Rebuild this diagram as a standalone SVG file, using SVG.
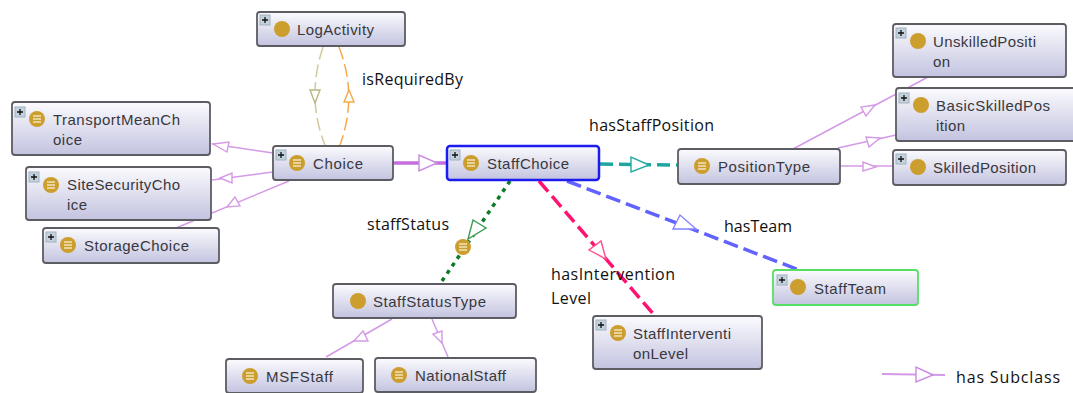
<svg xmlns="http://www.w3.org/2000/svg" width="1073" height="393" viewBox="0 0 1073 393">
<style>
.box{fill:url(#g);stroke:#5c5c63;stroke-width:1.8}
.t{font:15px "Liberation Sans",Arial,sans-serif;fill:#38383d}
.a{font:16px "Open Sans",sans-serif;fill:#111}
.c{fill:none}
.sub{stroke:#d49ae6;stroke-width:1.5}
.head{fill:#fff;stroke-width:1.4}
.gold{fill:#cc9e2e}
.bars{stroke:#f1e3bd;stroke-width:1.3}
.pb{fill:#c3d2dc;stroke:#9fb2bf;stroke-width:1}
.pl{stroke:#111;stroke-width:1.3}
</style>
<defs>
<linearGradient id="g" x1="0" y1="0" x2="0" y2="1"><stop offset="0" stop-color="#fbfbfe"/><stop offset="1" stop-color="#c3c3e0"/></linearGradient>
<g id="plus"><rect class="pb" x="0" y="0" width="10" height="10"/><path class="pl" d="M2 5H8M5 2V8"/></g>
<g id="ci"><circle class="gold" r="8"/></g>
<g id="cl"><circle class="gold" r="8"/><path class="bars" d="M-4-3H4M-4 0H4M-4 3H4"/></g>
</defs>
<rect width="1073" height="393" fill="#fff"/>
<g id="connectors">
<path class="c sub" d="M273 153L212 144"/>
<polygon class="head" stroke="#d49ae6" points="213,144 229,142 227,152"/>
<path class="c sub" d="M273 172L212 180"/>
<polygon class="head" stroke="#d49ae6" points="220,178 232,173 232,183"/>
<path class="c sub" d="M289 181L176 228"/>
<polygon class="head" stroke="#d49ae6" points="227,207 235,197 240,206"/>
<path class="c" stroke="#c56fdc" stroke-width="3.5" d="M393 163H447"/>
<polygon class="head" stroke="#c98ae0" points="437,163 419,155 419,171"/>
<path class="c" stroke="#cfcb9b" stroke-width="1.5" stroke-dasharray="13 5" d="M323 47Q306 98 325 145"/>
<polygon class="head" stroke="#b9b67f" points="315,103 310,90 320,90"/>
<path class="c" stroke="#f5a94a" stroke-width="1.5" stroke-dasharray="13 5" d="M339 47Q358 96 340 145"/>
<polygon class="head" stroke="#f5a94a" points="349,90 344,102 354,102"/>
<path class="c" stroke="#1fa79f" stroke-width="3.5" stroke-dasharray="13 6" d="M600 164L677 165"/>
<polygon class="head" stroke="#25aaa2" points="649,165 631,157 631,172"/>
<path class="c" stroke="#0d7a26" stroke-width="3.5" stroke-dasharray="4 5" d="M510 181L440 284"/>
<polygon class="head" stroke="#3c9a50" points="468,239 473,220 486,228"/>
<path class="c" stroke="#ff1270" stroke-width="3.5" stroke-dasharray="14 6" d="M539 181L655 316"/>
<polygon class="head" stroke="#ff4c8e" points="606,259 601,241 589,250"/>
<path class="c" stroke="#6262ff" stroke-width="3.5" stroke-dasharray="15 6" d="M567 181L799 270"/>
<polygon class="head" stroke="#8484ff" points="696,229 680,215 673,229"/>
<path class="c sub" d="M793 149L928 77"/>
<polygon class="head" stroke="#d49ae6" points="875,105 861,107 866,116"/>
<path class="c sub" d="M838 148L896 135"/>
<polygon class="head" stroke="#d49ae6" points="880,138 866,137 869,147"/>
<path class="c sub" d="M840 166H893"/>
<polygon class="head" stroke="#d49ae6" points="876,167 863,162 863,171"/>
<path class="c sub" d="M392 319L326 357"/>
<polygon class="head" stroke="#d49ae6" points="354,341 363,331 368,341"/>
<path class="c sub" d="M432 319L448 357"/>
<polygon class="head" stroke="#d49ae6" points="442,343 433,334 442,331"/>
<path class="c" stroke="#d49ae6" stroke-width="2" d="M882 374L945 375"/>
<polygon class="head" stroke="#c98ae0" stroke-width="2" points="933,375 916,367 916,382"/>
</g>
<g id="status-value"><use href="#cl" x="463" y="247"/></g>
<g id="LogActivity"><rect class="box" x="257" y="12" width="148" height="34" rx="3"/><use href="#plus" x="260" y="15"/><use href="#ci" x="282" y="29"/><text class="t" x="297" y="35" textLength="77">LogActivity</text></g>
<g id="TransportMeanChoice"><rect class="box" x="12" y="102" width="198" height="53" rx="3"/><use href="#plus" x="15" y="107"/><use href="#cl" x="37" y="119"/><text class="t" x="53" y="125" textLength="127">TransportMeanCh</text><text class="t" x="53" y="145" textLength="29">oice</text></g>
<g id="Choice"><rect class="box" x="273" y="146" width="120" height="34" rx="3"/><use href="#plus" x="276" y="150"/><use href="#cl" x="297" y="163"/><text class="t" x="313" y="169" textLength="50">Choice</text></g>
<g id="SiteSecurityChoice"><rect class="box" x="26" y="167" width="185" height="53" rx="3"/><use href="#plus" x="29" y="172"/><use href="#cl" x="51" y="185"/><text class="t" x="67" y="190" textLength="113">SiteSecurityCho</text><text class="t" x="67" y="210" textLength="20">ice</text></g>
<g id="StorageChoice"><rect class="box" x="43" y="228" width="176" height="35" rx="3"/><use href="#plus" x="46" y="232"/><use href="#cl" x="68" y="245"/><text class="t" x="84" y="251" textLength="105">StorageChoice</text></g>
<g id="StaffChoice"><rect class="box" style="stroke:#1c1cf0;stroke-width:2.5" x="447" y="146" width="152" height="34" rx="3"/><use href="#plus" x="450" y="150"/><use href="#cl" x="471" y="163"/><text class="t" x="487" y="169" textLength="82">StaffChoice</text></g>
<g id="PositionType"><rect class="box" x="678" y="149" width="162" height="35" rx="3"/><use href="#cl" x="702" y="166"/><text class="t" x="718" y="172" textLength="92">PositionType</text></g>
<g id="UnskilledPosition"><rect class="box" x="893" y="24" width="173" height="53" rx="3"/><use href="#plus" x="896" y="28"/><use href="#ci" x="918" y="41"/><text class="t" x="933" y="47" textLength="103">UnskilledPositi</text><text class="t" x="933" y="67" textLength="17">on</text></g>
<g id="BasicSkilledPosition"><rect class="box" x="896" y="88" width="185" height="53" rx="3"/><use href="#plus" x="899" y="93"/><use href="#ci" x="921" y="105"/><text class="t" x="936" y="111" textLength="114">BasicSkilledPos</text><text class="t" x="936" y="131" textLength="29">ition</text></g>
<g id="SkilledPosition"><rect class="box" x="893" y="150" width="173" height="35" rx="3"/><use href="#plus" x="896" y="154"/><use href="#ci" x="918" y="167"/><text class="t" x="933" y="173" textLength="103">SkilledPosition</text></g>
<g id="StaffTeam"><rect class="box" style="stroke:#55e065" x="773" y="270" width="145" height="35" rx="3"/><use href="#plus" x="777" y="275"/><use href="#ci" x="798" y="287"/><text class="t" x="814" y="294" textLength="72">StaffTeam</text></g>
<g id="StaffStatusType"><rect class="box" x="333" y="284" width="183" height="34" rx="3"/><use href="#ci" x="358" y="301"/><text class="t" x="373" y="307" textLength="113">StaffStatusType</text></g>
<g id="MSFStaff"><rect class="box" x="226" y="359" width="137" height="34" rx="3"/><use href="#cl" x="250" y="376"/><text class="t" x="266" y="382" textLength="67">MSFStaff</text></g>
<g id="NationalStaff"><rect class="box" x="375" y="358" width="161" height="34" rx="3"/><use href="#cl" x="399" y="375"/><text class="t" x="415" y="381" textLength="91">NationalStaff</text></g>
<g id="StaffInterventionLevel"><rect class="box" x="593" y="316" width="169" height="53" rx="3"/><use href="#plus" x="596" y="320"/><use href="#cl" x="618" y="333"/><text class="t" x="633" y="339" textLength="98">StaffInterventi</text><text class="t" x="633" y="359" textLength="55">onLevel</text></g>
<g id="labels">
<text class="a" x="362" y="85" textLength="101">isRequiredBy</text>
<text class="a" x="589" y="131" textLength="125">hasStaffPosition</text>
<text class="a" x="724" y="232" textLength="68">hasTeam</text>
<text class="a" x="367" y="230" textLength="82">staffStatus</text>
<text class="a" x="551" y="280" textLength="124">hasIntervention</text>
<text class="a" x="551" y="304" textLength="40">Level</text>
<text class="a" x="956" y="383" textLength="104">has Subclass</text>
</g>
</svg>
